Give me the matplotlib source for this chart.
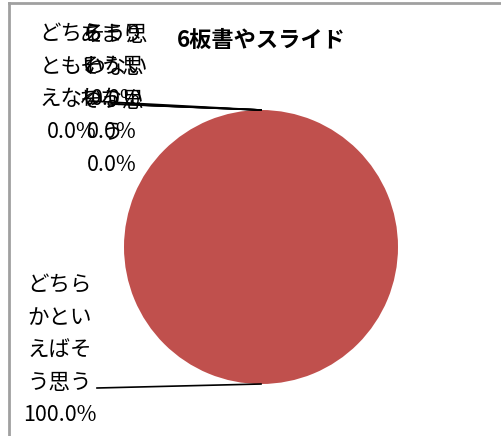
import numpy as np
import matplotlib
matplotlib.use("Agg")
import matplotlib.pyplot as plt

plt.rcParams['font.family'] = ['Noto Sans CJK JP', 'DejaVu Sans']

title = "6板書やスライド"
categories = ["そう思う", "どちらかといえばそう思う", "どちらともいえない",
              "あまりそう思わない", "そう思わない"]
values = [0.0, 100.0, 0.0, 0.0, 0.0]
# label text as Excel wraps it (3 chars per line)
wrapped = ["そう思\nう", "どちら\nかとい\nえばそ\nう思う", "どちら\nともい\nえない",
           "あまり\nそう思\nわない", "そう思\nわない"]
# label anchor (pixel coords, top-center) and leader start
label_pos = [(112, 90), (60, 275), (72, 24), (112, 24), (116, 24)]
leader_from = [(118, 104), (97, 388), (90, 101), (110, 104), (140, 105)]

W, H = 502, 436
fig = plt.figure(figsize=(W / 100, H / 100), dpi=100)
ax = fig.add_axes([0, 0, 1, 1])
ax.axis("off")


def py(y):
    return H - y


cx, cy, r = 261, py(247), 137
wedges, _ = ax.pie(values, colors=["#4F81BD", "#C0504D", "#9BBB59", "#8064A2", "#4BACC6"],
                   startangle=90, counterclock=False, center=(cx, cy), radius=r,
                   wedgeprops=dict(linewidth=0))
ax.set_xlim(0, W)
ax.set_ylim(0, H)

for i, (w, v) in enumerate(zip(wedges, values)):
    mid = np.deg2rad((w.theta1 + w.theta2) / 2)
    ex, ey = cx + r * np.cos(mid), cy + r * np.sin(mid)
    lx, ly = leader_from[i]
    ax.plot([lx, ex], [py(ly), ey], color="black", lw=1.2, zorder=3)
    tx, ty = label_pos[i]
    ax.text(tx, py(ty), f"{wrapped[i]}\n{v:.1f}%", ha="center", va="top",
            fontsize=15.5, linespacing=1.6, color="black", zorder=4)

ax.text(261, py(40), title, ha="center", va="center", fontsize=16,
        fontweight="bold", color="black")

# chart frame (only left and top edges fall inside the image)
ax.plot([9, 9], [py(3), 0], color="#a0a0a0", lw=2)
ax.plot([9, W], [py(3), py(3)], color="#a0a0a0", lw=2)

fig.savefig("out.png", dpi=100)
